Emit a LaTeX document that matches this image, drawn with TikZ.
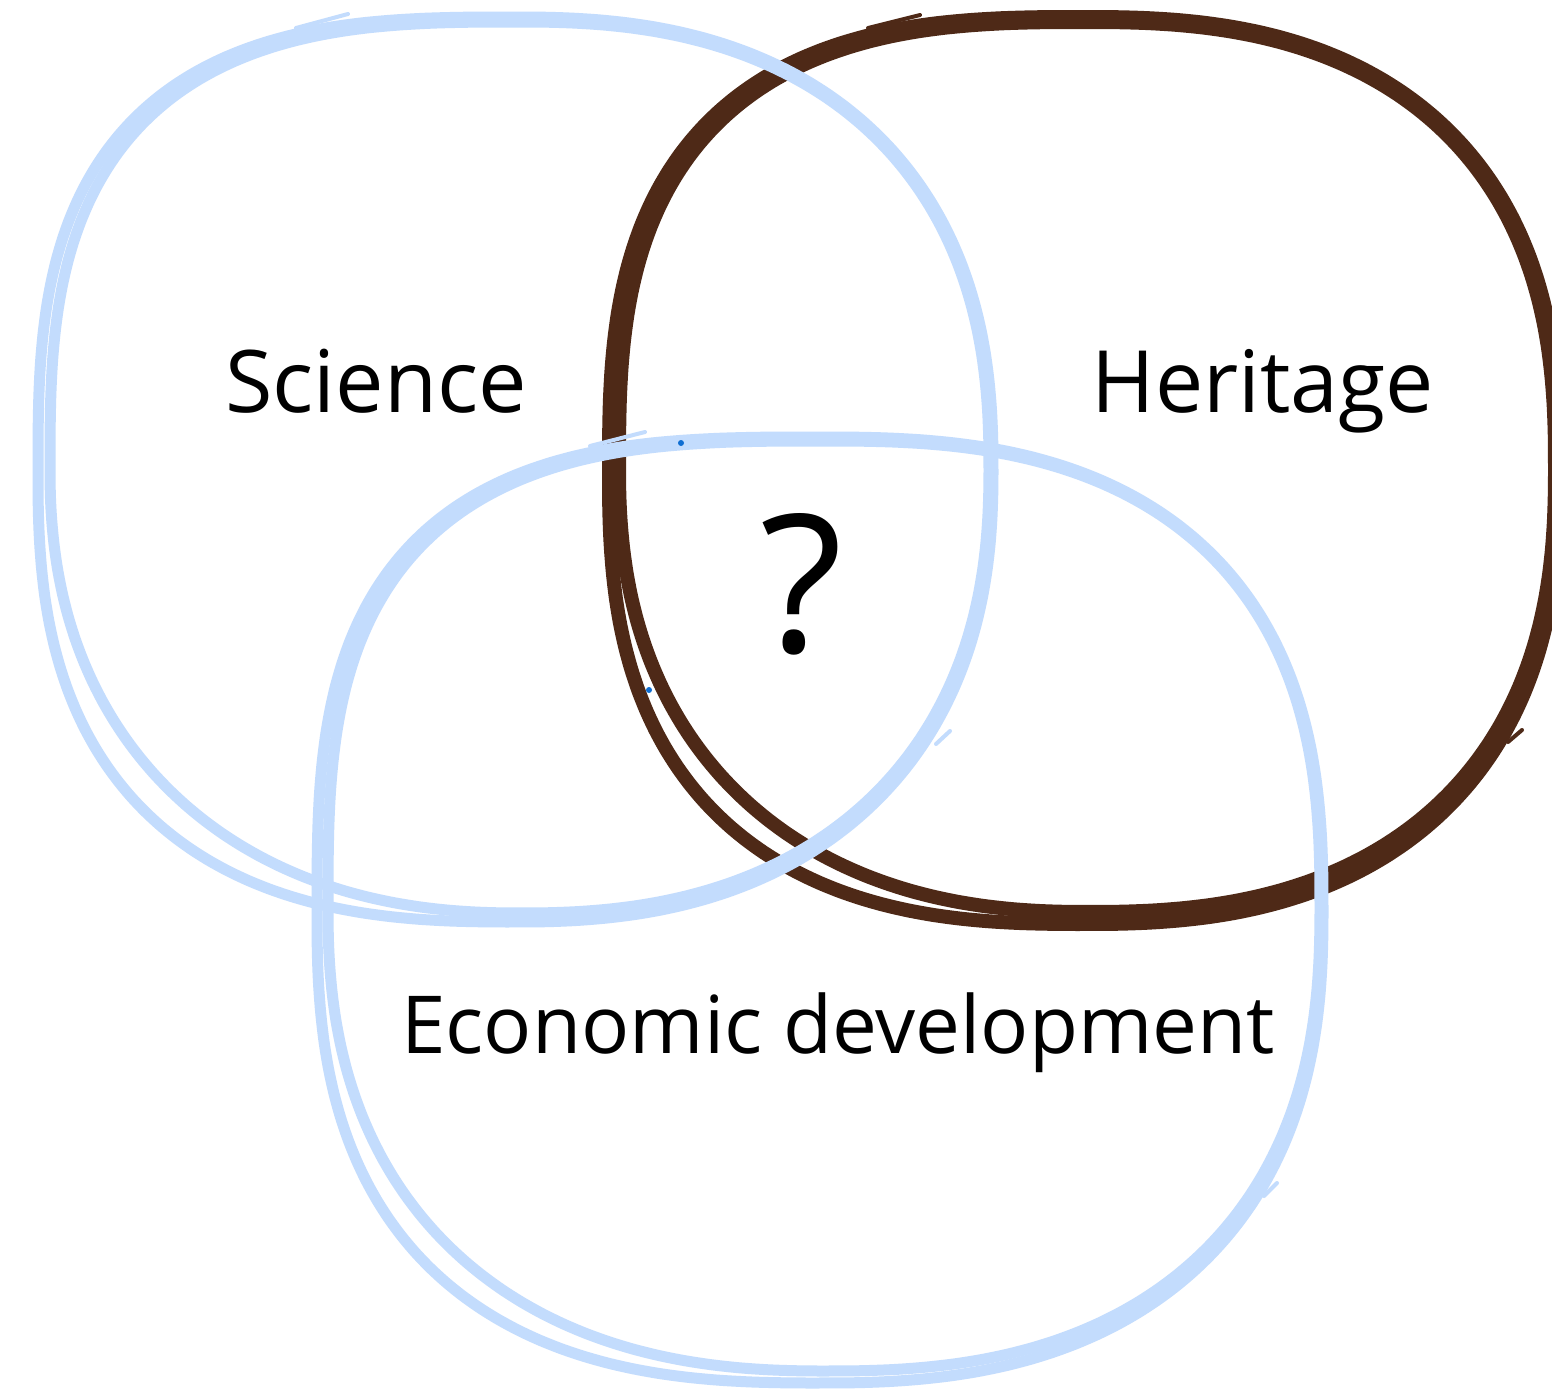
\documentclass[tikz,border=0pt]{standalone}
\usepackage{fontspec}
\setmainfont{Open Sans}
\definecolor{lb}{RGB}{195,220,253}
\definecolor{br}{RGB}{78,41,23}
\definecolor{db}{RGB}{15,110,210}
% loop geometry: centre, left/right half widths, top/bottom half heights
\newcommand\setloop[6]{\def\Lcx{#1}\def\Lcy{#2}\def\LaL{#3}\def\LaR{#4}\def\LbT{#5}\def\LbB{#6}}
% superellipse exponents per quadrant: top-left, top-right, bottom-left, bottom-right
\newcommand\setexp[4]{\def\LnTL{#1}\def\LnTR{#2}\def\LnBL{#3}\def\LnBR{#4}}
\newcommand\drawloop[1]{%
 \draw[#1] plot[smooth cycle,domain=1:358,samples=120,variable=\t]
  ({\Lcx + ((cos(\t)>0)*\LaR + (cos(\t)<0)*\LaL)*cos(\t)*abs(cos(\t))^(2/((cos(\t)<0)*(sin(\t)<0)*\LnTL + (cos(\t)>0)*(sin(\t)<0)*\LnTR + (cos(\t)<0)*(sin(\t)>0)*\LnBL + (cos(\t)>0)*(sin(\t)>0)*\LnBR)-1)},
   {\Lcy + ((sin(\t)>0)*\LbB + (sin(\t)<0)*\LbT)*sin(\t)*abs(sin(\t))^(2/((cos(\t)<0)*(sin(\t)<0)*\LnTL + (cos(\t)>0)*(sin(\t)<0)*\LnTR + (cos(\t)<0)*(sin(\t)>0)*\LnBL + (cos(\t)>0)*(sin(\t)>0)*\LnBR)-1)});}
\begin{document}
\begin{tikzpicture}[x=0.5pt,y=-0.5pt,line cap=round,line join=round,
  bluestroke/.style={draw=lb,line width=5.5pt},
  brownstroke/.style={draw=br,line width=7pt},
  bluetail/.style={draw=lb,line width=2pt},
  browntail/.style={draw=br,line width=2pt},
  label/.style={inner sep=0pt,anchor=base,text=black}]
\useasboundingbox (0,0) rectangle (1552,1392);
\clip (0,0) rectangle (1552,1392);
\fill[white] (0,0) rectangle (1552,1392);

% ---------- Heritage (brown) ----------
\setloop{1085}{470.5}{476}{475}{453.5}{453.5}\setexp{2.8}{2.5}{2.6}{2.45}
\drawloop{brownstroke}
\setloop{1087}{467}{468}{468}{445}{445}\setexp{2.8}{2.5}{2.3}{2.45}
\drawloop{brownstroke}
\draw[browntail] (868,28) -- (920,15);
\draw[browntail] (1508,742) -- (1522,730);

% ---------- Science (blue) ----------
\setloop{515.5}{469.5}{477.5}{477.5}{452.5}{452.5}\setexp{2.9}{2.4}{2.6}{2.35}
\drawloop{bluestroke}
\setloop{519.5}{467.5}{469.5}{469.5}{445.5}{445.5}\setexp{2.9}{2.4}{2.25}{2.35}
\drawloop{bluestroke}
\draw[bluetail] (296,28) -- (348,14);
\draw[bluetail] (936,744) -- (950,731);

% ---------- Economic development (blue) ----------
\setloop{820}{910}{503}{503}{473}{473}\setexp{3.0}{2.6}{2.6}{2.45}
\drawloop{bluestroke}
\setloop{825.5}{906}{497.5}{494.5}{465}{465}\setexp{3.0}{2.6}{2.35}{2.45}
\drawloop{bluestroke}
\draw[bluetail] (590,446) -- (645,432);
\draw[bluetail] (1264,1196) -- (1277,1183);

% small specks
\fill[db] (681,443) circle (3);
\fill[db] (649,690) circle (3);

% ---------- labels ----------
\node[label,font=\fontsize{43.2}{52}\selectfont] (science) at (376,412) {Science};
\node[label,font=\fontsize{43}{52}\selectfont] (heritage) at (1263,412) {Heritage};
\node[label,font=\fontsize{40}{48}\selectfont] (econ) at (838,1053) {Economic development};
\node[label,font=\fontsize{96}{110}\selectfont] (q) at (802,652) {?};
\end{tikzpicture}
\end{document}
